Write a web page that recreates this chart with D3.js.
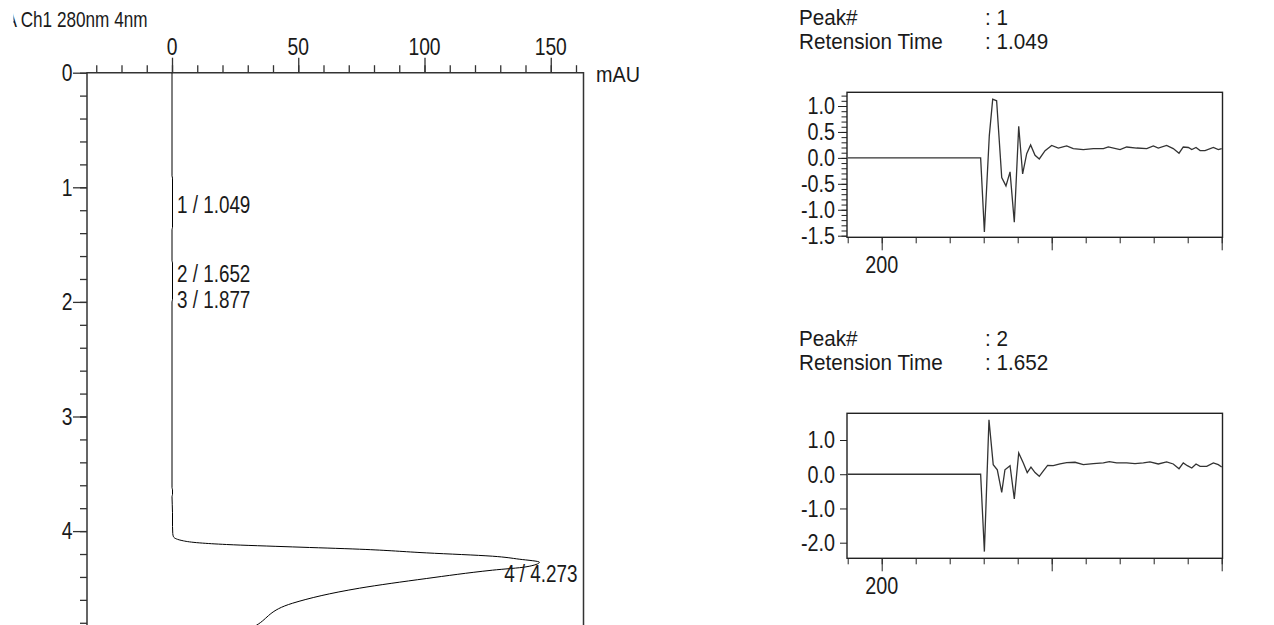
<!DOCTYPE html>
<html>
<head>
<meta charset="utf-8">
<script src="https://cdn.jsdelivr.net/npm/d3@7"></script>
<style>
  html, body { margin: 0; padding: 0; background: #fff; overflow: hidden; }
  svg { display: block; }
</style>
</head>
<body>
<svg id="chart" width="1274" height="625"></svg>
<script>
// ---- Chromatogram: PDA Ch1 280nm 4nm (time in min, absorbance in mAU) ----
const traceTime = [0, 0.90, 0.92, 1.35, 1.37, 1.64, 1.66, 1.98, 2.00, 3.62, 3.64, 3.68, 3.70, 3.84, 3.96, 4.02, 4.05, 4.085, 4.103, 4.117, 4.138, 4.158, 4.19, 4.219, 4.245, 4.271, 4.312, 4.341, 4.414, 4.498, 4.629, 4.821, 4.95];
const traceAbs  = [0, 0, 0.2, 0.2, 0, 0, 0.2, 0.2, 0, 0, 0.2, 0.2, 0, 0.2, 0.2, 0.3, 0.6, 4.5, 11, 21.6, 47.8, 74.3, 100.7, 126.9, 137.5, 145.5, 140.2, 126.9, 100.7, 74.3, 47.8, 33.5, 23.7];

const peakNumbers = [1, 2, 3, 4];
const peakTimes   = [1.049, 1.652, 1.877, 4.273];
const peakHeights = [0.2, 0.2, 0.2, 145.5];

const timeMajorTicks = [0, 1, 2, 3, 4];
const absMajorTicks  = [0, 50, 100, 150];

// ---- Spectrum of peak 1 (wavelength nm, mAU) ----
const spec1Wavelength = [180, 258.2, 260.4, 263.3, 265.3, 267.6, 270.6, 273.1, 275.5, 278.0, 280.6, 282.9, 285.3, 287.6, 290.2, 292.7, 296.1, 300.0, 303.9, 308.8, 312.7, 318.6, 324.5, 330.4, 333.3, 340.2, 344.1, 350.0, 355.9, 359.8, 362.7, 367.6, 371.5, 374.9, 377.4, 380.4, 382.4, 384.9, 387.3, 390.2, 395.1, 398.0, 400.0];
const spec1Value      = [0, 0, -1.43, 0.43, 1.13, 1.10, -0.38, -0.54, -0.27, -1.24, 0.61, -0.31, 0.08, 0.25, 0.05, -0.02, 0.14, 0.24, 0.19, 0.23, 0.18, 0.16, 0.18, 0.18, 0.21, 0.16, 0.21, 0.19, 0.18, 0.23, 0.19, 0.24, 0.18, 0.09, 0.21, 0.20, 0.16, 0.20, 0.14, 0.14, 0.20, 0.16, 0.18];

// ---- Spectrum of peak 2 ----
const spec2Wavelength = [180, 258.2, 260.4, 263.1, 265.6, 268.0, 270.6, 272.5, 275.5, 278.0, 280.6, 283.3, 285.6, 287.8, 290.2, 292.7, 295.1, 297.6, 300.9, 304.9, 308.8, 313.7, 318.6, 324.5, 330.4, 333.9, 338.2, 344.1, 349.0, 353.9, 357.8, 362.7, 367.6, 371.5, 374.9, 377.4, 379.8, 382.4, 384.9, 387.3, 391.2, 395.1, 398.0, 400.0];
const spec2Value      = [0, 0, -2.26, 1.59, 0.28, 0.13, -0.53, 0.13, 0.25, -0.72, 0.62, 0.33, 0.05, 0.21, 0.05, -0.06, 0.10, 0.26, 0.25, 0.30, 0.34, 0.35, 0.28, 0.31, 0.33, 0.37, 0.33, 0.33, 0.31, 0.33, 0.36, 0.30, 0.36, 0.30, 0.16, 0.33, 0.25, 0.18, 0.30, 0.23, 0.23, 0.33, 0.28, 0.21];

const spec1Ticks = [-1.5, -1.0, -0.5, 0.0, 0.5, 1.0];
const spec2Ticks = [-2.0, -1.0, 0.0, 1.0];
const wavelengthLabels = [200];

const FONT = "'Liberation Sans', Arial, sans-serif";
const INK = "#1a1a1a";
const svg = d3.select("#chart");

// Text with a slightly condensed face
function label(parent, x, y, str, opt = {}) {
  const size = opt.size || 23;
  const sx = opt.sx || 0.86;
  return parent.append("text")
    .attr("transform", `translate(${x},${y}) scale(${sx},1)`)
    .attr("text-anchor", opt.anchor || "start")
    .attr("font-family", FONT)
    .attr("font-size", size)
    .attr("fill", INK)
    .text(str);
}

// ================= Chromatogram =================
const box = { left: 87, right: 583.5, top: 72.7, bottom: 640 };
const xA = d3.scaleLinear().domain([0, 160]).range([172, 172 + 160 * 2.525]);
const yT = d3.scaleLinear().domain([0, 4]).range([box.top, box.top + 4 * 114.6]);

const chrom = svg.append("g");

// title (its left end runs off the page edge)
svg.append("clipPath").attr("id", "titleClip")
  .append("rect").attr("x", 13.5).attr("y", 0).attr("width", 300).attr("height", 40);
label(chrom.append("g").attr("clip-path", "url(#titleClip)"), 147.5, 27, "PDA Ch1 280nm 4nm", { anchor: "end", size: 22, sx: 0.78 });

// top absorbance axis
const topMinor = d3.axisTop(xA).tickValues(d3.range(-30, 161, 10)).tickSize(7.5).tickFormat("");
const topMajor = d3.axisTop(xA).tickValues(absMajorTicks).tickSize(15).tickFormat("");
[topMinor, topMajor].forEach(ax => {
  chrom.append("g").attr("transform", `translate(0,${box.top})`).attr("color", "#333")
    .call(ax).call(g => g.select(".domain").remove())
    .selectAll("line").attr("stroke-width", 1.3);
});
absMajorTicks.forEach(v => label(chrom, xA(v), 54.5, String(v), { anchor: "middle", sx: 0.84 }));
label(chrom, 596, 82, "mAU", { size: 22, sx: 0.9 });

// left time axis
const leftMinor = d3.axisLeft(yT).tickValues(d3.range(0, 25).map(i => i * 0.2)).tickSize(7).tickFormat("");
const leftMajor = d3.axisLeft(yT).tickValues(timeMajorTicks).tickSize(14).tickFormat("");
[leftMinor, leftMajor].forEach(ax => {
  chrom.append("g").attr("transform", `translate(${box.left},0)`).attr("color", "#333")
    .call(ax).call(g => g.select(".domain").remove())
    .selectAll("line").attr("stroke-width", 1.3);
});
timeMajorTicks.forEach(v => label(chrom, 72.5, yT(v) + 8.3, String(v), { anchor: "end", sx: 0.84 }));

// frame: top, left and right edges
chrom.append("path")
  .attr("d", `M${box.left},${box.bottom}V${box.top}H${box.right}V${box.bottom}`)
  .attr("fill", "none").attr("stroke", "#333").attr("stroke-width", 1.5);

// trace
svg.append("clipPath").attr("id", "chromClip")
  .append("rect").attr("x", box.left).attr("y", box.top).attr("width", box.right - box.left).attr("height", box.bottom - box.top);
const traceLine = d3.line()
  .x(i => xA(traceAbs[i]))
  .y(i => yT(traceTime[i]))
  .curve(d3.curveMonotoneY);
chrom.append("path")
  .attr("clip-path", "url(#chromClip)")
  .attr("d", traceLine(d3.range(traceTime.length)))
  .attr("fill", "none").attr("stroke", "#000").attr("stroke-width", 1);

// peak labels
peakNumbers.forEach((n, i) => {
  const str = `${n} / ${peakTimes[i].toFixed(3)}`;
  const t = label(chrom, 0, 0, str, { sx: 0.82 });
  const w = t.node().getBBox().width * 0.82;
  let x = xA(peakHeights[i]) + 4.5;
  if (x + w > box.right - 6) x = box.right - 6 - w;
  t.attr("transform", `translate(${x},${yT(peakTimes[i]) + 20}) scale(0.82,1)`);
});

// ================= Peak spectra =================
const xW = d3.scaleLinear().domain([180, 400]).range([847.7, 1221.7]);

function spectrumPanel(cfg) {
  const g = svg.append("g");
  const top = cfg.top, bottom = cfg.top + 145;
  const y = d3.scaleLinear().domain(cfg.yDomain).range(cfg.yRange);

  const info = { size: 22, sx: 0.94 };
  label(g, 799, cfg.top - 67.5, "Peak#", info);
  label(g, 799, cfg.top - 43.5, "Retension Time", info);
  label(g, 985, cfg.top - 67.5, ": " + cfg.peak, info);
  label(g, 985, cfg.top - 43.5, ": " + cfg.time.toFixed(3), info);

  // y ticks
  if (cfg.yMinor) {
    g.append("g").attr("transform", `translate(847,0)`).attr("color", "#222")
      .call(d3.axisLeft(y).tickValues(cfg.yMinor).tickSize(5.5).tickFormat(""))
      .call(a => a.select(".domain").remove());
  }
  g.append("g").attr("transform", `translate(847,0)`).attr("color", "#222")
    .call(d3.axisLeft(y).tickValues(cfg.yTicks).tickSize(cfg.yMajorSize).tickFormat(""))
    .call(a => a.select(".domain").remove());
  cfg.yTicks.forEach(v => label(g, 835, y(v) + 8.3, v.toFixed(1), { anchor: "end", sx: 0.86 }));

  // x ticks
  g.append("g").attr("transform", `translate(0,${bottom})`).attr("color", "#222")
    .call(d3.axisBottom(xW).tickValues(d3.range(180, 401, 20)).tickSize(6).tickFormat(""))
    .call(a => a.select(".domain").remove());
  g.append("g").attr("transform", `translate(0,${bottom})`).attr("color", "#222")
    .call(d3.axisBottom(xW).tickValues([200, 300, 400]).tickSize(13).tickFormat(""))
    .call(a => a.select(".domain").remove());
  wavelengthLabels.forEach(v => label(g, xW(v), bottom + 36, String(v), { anchor: "middle", sx: 0.86 }));

  // frame
  g.append("rect").attr("x", 847).attr("y", top).attr("width", 1222.5 - 847).attr("height", 145)
    .attr("fill", "none").attr("stroke", "#222").attr("stroke-width", 1.4);

  // curve
  const line = d3.line().x(i => xW(cfg.wl[i])).y(i => y(cfg.val[i]));
  g.append("path").attr("d", line(d3.range(cfg.wl.length)))
    .attr("fill", "none").attr("stroke", "#333").attr("stroke-width", 1.3);
}

spectrumPanel({
  peak: peakNumbers[0], time: peakTimes[0], top: 92.3,
  yDomain: [-1.5, 1.0], yRange: [235.7, 106],
  yTicks: spec1Ticks, yMajorSize: 9,
  yMinor: d3.range(-15, 13).map(i => i / 10),
  wl: spec1Wavelength, val: spec1Value
});
spectrumPanel({
  peak: peakNumbers[1], time: peakTimes[1], top: 413.3,
  yDomain: [-2.0, 1.0], yRange: [542.7, 440],
  yTicks: spec2Ticks, yMajorSize: 7,
  yMinor: null,
  wl: spec2Wavelength, val: spec2Value
});
</script>
</body>
</html>
